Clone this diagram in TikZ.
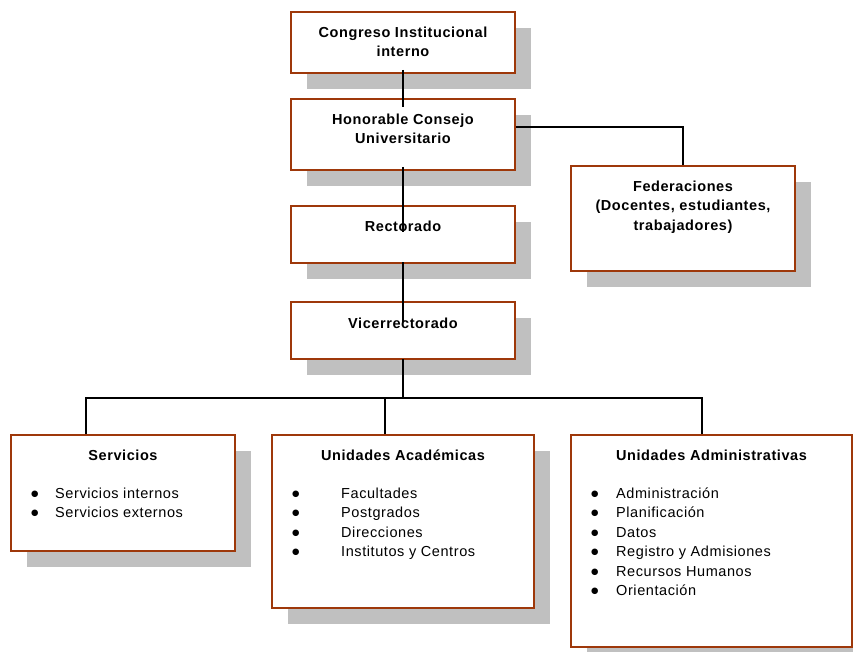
\documentclass[tikz,border=0pt]{standalone}
\usepackage{fontspec}
\setmainfont{Liberation Sans}
\newfontfamily\orgfont[LetterSpace=4]{Liberation Sans}
\newfontfamily\symfont{DejaVu Sans}
\usetikzlibrary{calc,shadows}
\definecolor{brd}{RGB}{158,56,10}
\definecolor{shd}{RGB}{192,192,192}
\newcommand{\fstr}{\rule{0pt}{10.5pt}}
\newcommand{\bul}[1]{\makebox[#1][l]{\symfont\fontsize{8.5}{8.5}\selectfont\raisebox{2pt}{●}}}
\begin{document}
\begin{tikzpicture}[x=1pt,y=-1pt,
  orgbox/.style={draw=brd, line width=2pt, fill=white, inner sep=0pt,
    general shadow={fill=shd, shadow xshift=15.5pt, shadow yshift=-16pt}},
  titletext/.style={anchor=north, inner sep=0pt, align=center,
    font=\orgfont\bfseries\fontsize{14.5}{19.4}\selectfont},
  listtext/.style={anchor=north west, inner sep=0pt, align=left,
    font=\orgfont\fontsize{14.5}{19.5}\selectfont},
  conn/.style={draw=black, line width=1.6pt}]
\useasboundingbox (0,0) rectangle (853,652);

% boxes
\node[orgbox, minimum width=224pt, minimum height=61pt] (congreso) at (403,42.5) {};
\node[orgbox, minimum width=224pt, minimum height=71pt] (honorable) at (403,134.5) {};
\node[orgbox, minimum width=224pt, minimum height=57pt] (rectorado) at (403,234.5) {};
\node[orgbox, minimum width=224pt, minimum height=57pt] (vice) at (403,330.5) {};
\node[orgbox, minimum width=224pt, minimum height=105pt] (federaciones) at (683,218.5) {};
\node[orgbox, minimum width=224pt, minimum height=116pt] (servicios) at (123,493) {};
\node[orgbox, minimum width=262pt, minimum height=173pt] (academicas) at (403,521.5) {};
\node[orgbox, minimum width=281pt, minimum height=212pt] (admin) at (711.5,541) {};

% titles
\node[titletext] (tcongreso) at ($(congreso.north)+(0,15.5)$) {\fstr Congreso Institucional\\interno};
\node[titletext] (thonorable) at ($(honorable.north)+(0,15.5)$) {\fstr Honorable Consejo\\Universitario};
\node[titletext] (trectorado) at ($(rectorado.north)+(0,15.5)$) {\fstr Rectorado};
\node[titletext] (tvice) at ($(vice.north)+(0,16.5)$) {\fstr Vicerrectorado};
\node[titletext] (tfederaciones) at ($(federaciones.north)+(0,15.5)$) {\fstr Federaciones\\(Docentes, estudiantes,\\trabajadores)};
\node[titletext] (tservicios) at ($(servicios.north)+(0,15.5)$) {\fstr Servicios};
\node[titletext] (tacademicas) at ($(academicas.north)+(0,15.5)$) {\fstr Unidades Académicas};
\node[titletext] (tadmin) at ($(admin.north)+(0,15.5)$) {\fstr Unidades Administrativas};

% lists
\node[listtext] (lservicios) at (31,487.5) {\fstr\bul{24pt}Servicios internos\\\bul{24pt}Servicios externos};
\node[listtext] (lacademicas) at (292,487.5) {\fstr\bul{49pt}Facultades\\\bul{49pt}Postgrados\\\bul{49pt}Direcciones\\\bul{49pt}Institutos y Centros};
\node[listtext] (ladmin) at (591,487.5) {\fstr\bul{25pt}Administración\\\bul{25pt}Planificación\\\bul{25pt}Datos\\\bul{25pt}Registro y Admisiones\\\bul{25pt}Recursos Humanos\\\bul{25pt}Orientación};

% connectors
\draw[conn] ($(congreso.south)+(0,-4)$) -- ($(honorable.north)+(0,9)$);
\draw[conn] ($(honorable.south)+(0,-4)$) -- ($(rectorado.north)+(0,27)$);
\draw[conn] ($(rectorado.south)+(0,-2)$) -- ($(vice.north)+(0,21)$);
\draw[conn] ($(honorable.east)+(0,-7.5)$) -| (federaciones.north);
\coordinate (bus) at ($(vice.south)+(0,38)$);
\coordinate (dS) at ($(servicios.north)+(-37,0)$);
\coordinate (dA) at ($(academicas.north)+(-18,0)$);
\coordinate (dU) at ($(admin.north)+(-9.5,0)$);
\draw[conn] ($(vice.south)+(0,-1)$) -- (bus);
\draw[conn] (dS) |- (bus) -| (dU);
\draw[conn] (dA) -- (dA |- bus);
\end{tikzpicture}
\end{document}
